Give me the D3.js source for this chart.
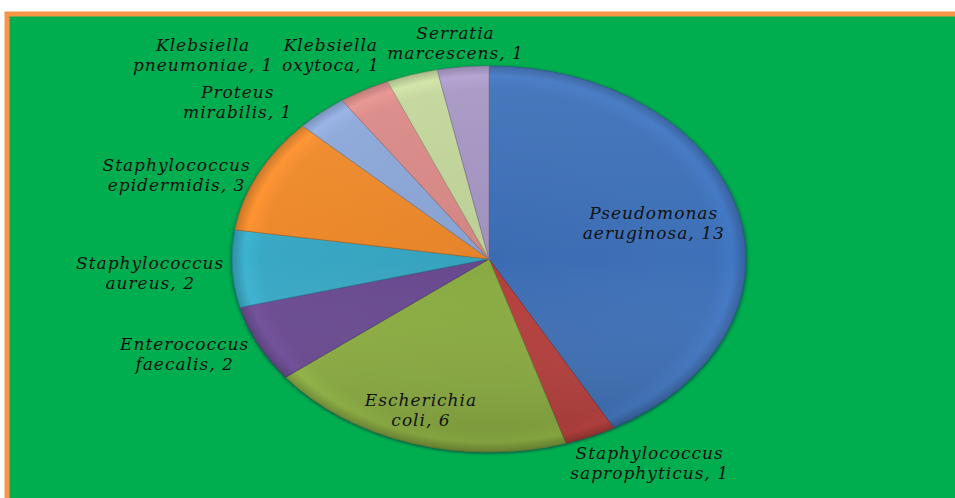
<!DOCTYPE html>
<html>
<head>
<meta charset="utf-8">
<script src="https://cdn.jsdelivr.net/npm/d3@7"></script>
<style>
  body { margin: 0; background: #fff; }
  text { font-family: "DejaVu Serif", serif; font-style: italic; font-size: 17px; letter-spacing: 1px; fill: #111; }
</style>
</head>
<body>
<div id="graphic"></div>
<script>
const categories = ["Pseudomonas aeruginosa", "Staphylococcus saprophyticus", "Escherichia coli",
    "Enterococcus faecalis", "Staphylococcus aureus", "Staphylococcus epidermidis",
    "Proteus mirabilis", "Klebsiella pneumoniae", "Klebsiella oxytoca", "Serratia marcescens"]
const counts = [13, 1, 6, 2, 2, 3, 1, 1, 1, 1]
const colors = ["#3d70b8", "#b83f3c", "#8daf42", "#6a4992", "#38a8c4", "#ee892c",
    "#8ca7d8", "#da8a87", "#c2d69b", "#a696c4"]

// label placement: inside for the two big slices, outside otherwise, plus small nudges
const labelInside = [true, false, true, false, false, false, false, false, false, false]
const labelNudge = [[3, -5], [34, -18], [-18, 31], [-16, -11], [-18, 2], [-24, 22],
    [-42, 26], [-130, 7], [-62, 26], [-1, 24]]

const W = 955, H = 498
const cx = 489, cy = 259
const rx = 257, ry = 193

const svg = d3.select("#graphic").append("svg")
    .attr("width", W)
    .attr("height", H)

const defs = svg.append("defs")

// frame
svg.append("rect")
    .attr("x", 7).attr("y", 14)
    .attr("width", 970).attr("height", 520)
    .attr("fill", "#00ae4f")
    .attr("stroke", "#f79646")
    .attr("stroke-width", 5)

const shadow = defs.append("filter").attr("id", "shadow")
    .attr("x", "-10%").attr("y", "-10%").attr("width", "120%").attr("height", "120%")
shadow.append("feDropShadow")
    .attr("dx", 0).attr("dy", 1).attr("stdDeviation", 1.5)
    .attr("flood-color", "#0b2540").attr("flood-opacity", 0.8)

colors.forEach(function (c, i) {
    const g = defs.append("radialGradient")
        .attr("id", "grad" + i)
        .attr("gradientUnits", "userSpaceOnUse")
        .attr("cx", 0).attr("cy", 0).attr("r", ry)
    const base = d3.color(c)
    g.append("stop").attr("offset", "0%").attr("stop-color", base.darker(0.1))
    g.append("stop").attr("offset", "88%").attr("stop-color", base)
    g.append("stop").attr("offset", "95%").attr("stop-color", base.brighter(0.18))
    g.append("stop").attr("offset", "100%").attr("stop-color", base.darker(0.45))
})

const shade = defs.append("linearGradient").attr("id", "shade")
    .attr("x1", 0).attr("y1", 0).attr("x2", 0).attr("y2", 1)
shade.append("stop").attr("offset", "0%").attr("stop-color", "#fff").attr("stop-opacity", 0.06)
shade.append("stop").attr("offset", "50%").attr("stop-color", "#fff").attr("stop-opacity", 0)
shade.append("stop").attr("offset", "100%").attr("stop-color", "#000").attr("stop-opacity", 0.16)

const pie = d3.pie().sort(null).value(function (d) { return d })
const arcs = pie(counts)

const arc = d3.arc().innerRadius(0).outerRadius(ry)

const pieG = svg.append("g")
    .attr("transform", "translate(" + cx + "," + cy + ") scale(" + (rx / ry) + ",1)")

const slices = pieG.append("g").attr("filter", "url(#shadow)")
slices.selectAll(null)
    .data(arcs)
    .enter().append("path")
    .attr("d", arc)
    .attr("fill", function (d, i) { return "url(#grad" + i + ")" })
    .attr("stroke", function (d, i) { return d3.color(colors[i]).darker(0.9) })
    .attr("stroke-width", 1)
    .attr("stroke-opacity", 0.6)
    .attr("vector-effect", "non-scaling-stroke")

pieG.append("ellipse")
    .attr("rx", ry).attr("ry", ry)
    .attr("fill", "url(#shade)")
    .attr("pointer-events", "none")

// labels
function anchor(d, i) {
    const a = (d.startAngle + d.endAngle) / 2
    const k = labelInside[i] ? 0.65 : 1.25
    return [cx + rx * k * Math.sin(a) + labelNudge[i][0],
            cy - ry * k * Math.cos(a) + labelNudge[i][1]]
}

let labels = svg.selectAll(null)
    .data(arcs)
    .enter().append("text")
    .attr("text-anchor", "middle")
    .attr("transform", function (d, i) {
        const p = anchor(d, i)
        return "translate(" + p[0] + "," + p[1] + ")"
    })

labels.append("tspan")
    .attr("x", 0).attr("y", -4)
    .text(function (d, i) { return categories[i].split(" ")[0] })
labels.append("tspan")
    .attr("x", 0).attr("y", 16)
    .text(function (d, i) { return categories[i].split(" ")[1] + ", " + d.value })
</script>
</body>
</html>
